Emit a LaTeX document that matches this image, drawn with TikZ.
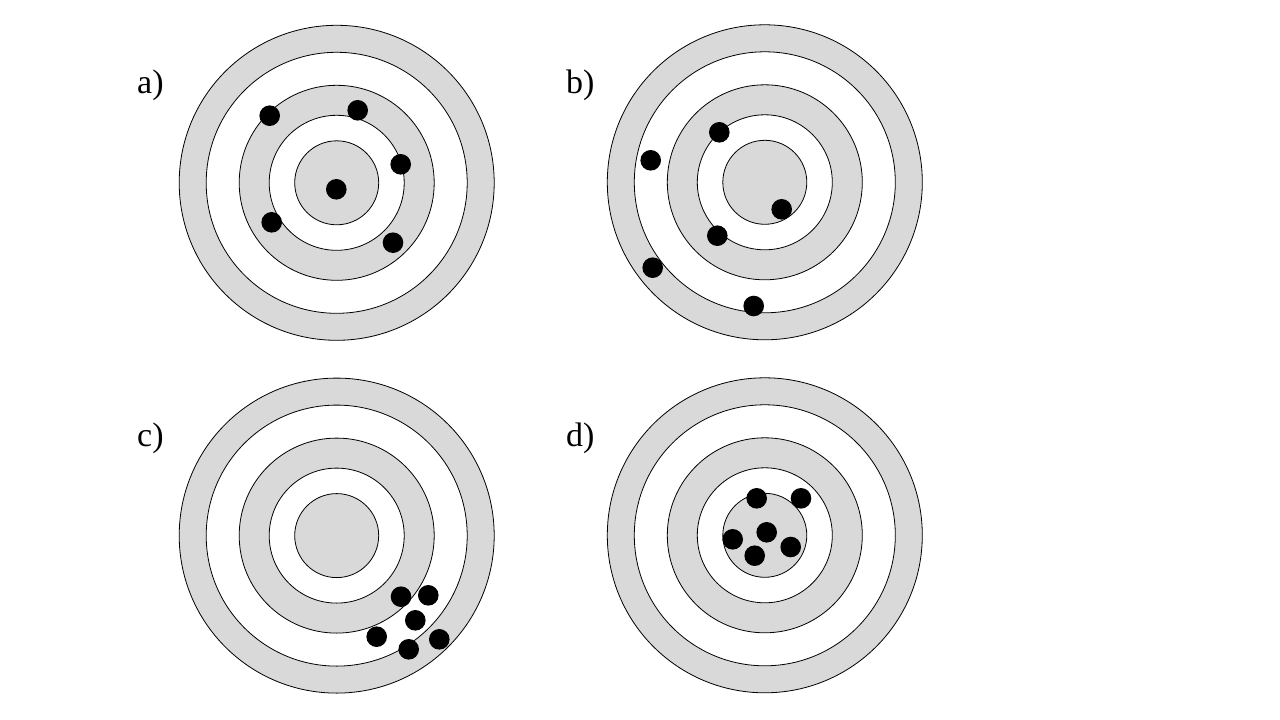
\documentclass[tikz,border=0pt]{standalone}
\usepackage{fontspec}
\setmainfont{Liberation Serif}
\definecolor{ringgray}{HTML}{D9D9D9}
\tikzset{
  ringg/.style={draw=black, line width=0.8pt, fill=ringgray},
  ringw/.style={draw=black, line width=0.8pt, fill=white},
  hit/.style={fill=black},
  lbl/.style={anchor=base west, inner sep=0pt, font=\fontsize{34}{40}\selectfont},
  target/.pic={
    \path[ringg] (0,0) circle[radius=157.5pt];
    \path[ringw] (0,0) circle[radius=130.5pt];
    \path[ringg] (0,0) circle[radius=97.5pt];
    \path[ringw] (0,0) circle[radius=67.5pt];
    \path[ringg] (0,0) circle[radius=42pt];
  }
}
\begin{document}
\begin{tikzpicture}[x=1pt,y=-1pt]
\useasboundingbox[fill=white] (0,0) rectangle (1280,720);

% targets
\pic at (336.7,182.8) {target};
\pic at (764.8,182.3) {target};
\pic at (336.7,535.6) {target};
\pic at (764.8,535.3) {target};

% labels
\node[lbl] (la) at (137,93.5) {a)};
\node[lbl] (lb) at (566,93.5) {b)};
\node[lbl] (lc) at (137,446.5) {c)};
\node[lbl] (ld) at (566,446.5) {d)};

% hits a
\foreach \p in {(269.7,115.7),(357.7,110.3),(400.7,164.3),(336.3,189.3),(271.7,222.3),(393,242.7)}
  \fill[hit] \p circle[radius=10.3pt];
% hits b
\foreach \p in {(719.3,132.3),(650.7,160.3),(781.7,209.3),(717.3,235.7),(652.7,267.7),(753.7,306)}
  \fill[hit] \p circle[radius=10.3pt];
% hits c
\foreach \p in {(401,596.7),(428.3,595.3),(415.3,620.3),(376.7,636.7),(408.7,649.3),(439.3,639.3)}
  \fill[hit] \p circle[radius=10.3pt];
% hits d
\foreach \p in {(756.7,498.3),(801,498.3),(766.7,532.3),(732.7,539.3),(790.7,547),(754.7,555.7)}
  \fill[hit] \p circle[radius=10.3pt];
\end{tikzpicture}
\end{document}
